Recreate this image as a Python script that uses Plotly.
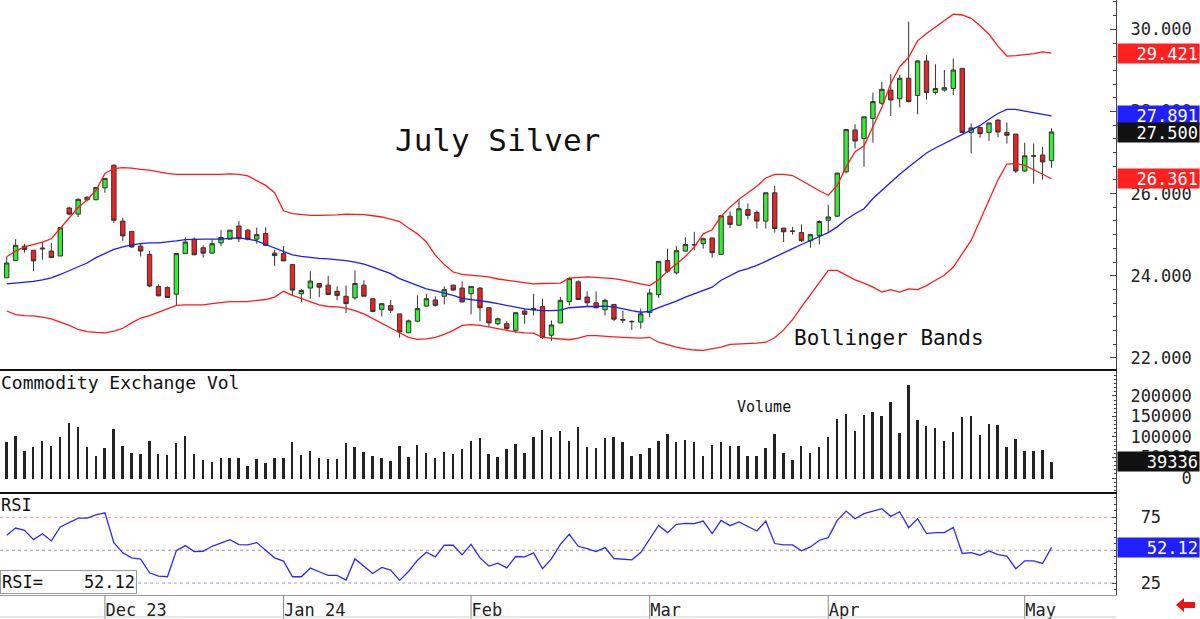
import plotly.graph_objects as go

# ---------------- data ----------------
x_labels = ["Dec 23", "Jan 24", "Feb", "Mar", "Apr", "May"]
x_label_idx = [11, 31, 52, 72, 92, 114]

opens = [23.95, 24.37, 24.72, 24.62, 24.65, 24.60, 24.48, 25.65, 25.50, 25.85,
         25.85, 26.14, 26.69, 25.33, 25.08, 24.72, 24.52, 23.74, 23.71, 23.55,
         24.54, 24.89, 24.68, 24.55, 24.80, 24.89, 25.21, 25.11, 24.89, 25.03,
         24.55, 24.54, 24.27, 23.56, 23.70, 23.81, 23.77, 23.62, 23.50, 23.46,
         23.77, 23.44, 23.18, 23.27, 23.07, 22.61, 22.89, 23.26, 23.41, 23.50,
         23.77, 23.70, 23.56, 23.70, 23.22, 22.83, 22.83, 22.67, 23.14, 23.17,
         23.25, 22.55, 22.85, 23.37, 23.85, 23.48, 23.34, 23.17, 23.30, 22.93,
         22.89, 22.87, 23.10, 23.54, 24.37, 24.07, 24.60, 24.76, 24.78, 24.92,
         24.52, 25.45, 25.23, 25.61, 25.54, 25.33, 26.02, 25.16, 25.09, 25.05,
         24.85, 24.98, 25.35, 25.45, 26.53, 27.55, 27.34, 27.83, 28.20, 28.52,
         28.31, 28.81, 28.39, 29.23, 28.46, 28.52, 28.56, 29.05, 27.49, 27.61,
         27.49, 27.79, 27.49, 27.45, 26.55, 26.91, 26.94, 26.80]
highs = [24.46, 24.89, 24.78, 24.62, 24.82, 24.80, 25.19, 25.68, 25.88, 25.94,
         26.16, 26.37, 26.71, 25.41, 25.08, 24.78, 24.60, 23.79, 23.74, 24.54,
         24.93, 24.93, 24.74, 24.88, 25.11, 25.11, 25.33, 25.14, 25.17, 25.18,
         24.63, 24.72, 24.27, 23.68, 24.11, 23.81, 24.00, 23.74, 23.76, 24.13,
         23.89, 23.44, 23.32, 23.41, 23.07, 22.93, 23.52, 23.56, 23.50, 23.74,
         23.78, 23.86, 23.74, 23.72, 23.22, 22.98, 22.89, 23.10, 23.20, 23.56,
         23.44, 22.91, 23.48, 23.97, 23.89, 23.62, 23.62, 23.44, 23.30, 23.15,
         22.91, 23.20, 23.68, 24.35, 24.66, 24.72, 24.94, 25.07, 24.93, 24.92,
         25.47, 25.57, 25.85, 25.76, 25.59, 26.02, 26.19, 25.16, 25.19, 25.25,
         25.02, 25.35, 25.73, 26.50, 27.56, 27.69, 27.87, 28.46, 28.72, 28.91,
         28.89, 30.19, 29.25, 29.37, 29.15, 29.01, 29.29, 29.05, 27.71, 27.63,
         27.72, 27.81, 27.73, 27.45, 27.24, 27.22, 27.14, 27.59]
lows = [23.95, 24.37, 24.56, 24.11, 24.39, 24.44, 24.48, 25.47, 25.43, 25.81,
        25.84, 26.02, 25.28, 24.85, 24.68, 24.47, 23.72, 23.50, 23.46, 23.28,
        24.54, 24.50, 24.44, 24.54, 24.72, 24.89, 24.82, 24.86, 24.78, 24.72,
        24.24, 24.36, 23.52, 23.36, 23.44, 23.48, 23.54, 23.40, 23.09, 23.42,
        23.50, 23.11, 23.01, 23.09, 22.49, 22.60, 22.87, 23.25, 23.25, 23.30,
        23.64, 23.36, 23.06, 22.89, 22.76, 22.79, 22.68, 22.60, 22.83, 23.03,
        22.46, 22.41, 22.85, 23.28, 23.42, 23.26, 23.20, 23.03, 22.89, 22.85,
        22.68, 22.71, 22.99, 23.46, 24.07, 24.03, 24.58, 24.62, 24.66, 24.44,
        24.50, 25.16, 25.23, 25.37, 25.15, 25.15, 25.05, 24.82, 25.00, 24.82,
        24.68, 24.76, 25.07, 25.43, 26.49, 27.10, 26.65, 27.24, 28.16, 27.89,
        28.10, 28.22, 27.93, 28.29, 28.41, 28.48, 28.40, 27.48, 26.98, 27.36,
        27.28, 27.37, 27.22, 26.50, 26.53, 26.24, 26.34, 26.63]
closes = [24.31, 24.74, 24.64, 24.36, 24.67, 24.44, 25.17, 25.50, 25.86, 25.91,
          26.15, 26.37, 25.35, 24.97, 24.70, 24.60, 23.75, 23.51, 23.47, 24.54,
          24.82, 24.51, 24.55, 24.78, 24.93, 25.11, 24.90, 24.89, 25.00, 24.74,
          24.49, 24.36, 23.65, 23.64, 23.87, 23.72, 23.54, 23.52, 23.32, 23.81,
          23.50, 23.13, 23.32, 23.16, 22.63, 22.90, 23.20, 23.44, 23.28, 23.66,
          23.65, 23.36, 23.74, 23.22, 22.85, 22.95, 22.71, 23.10, 23.06, 23.20,
          22.49, 22.80, 23.40, 23.93, 23.42, 23.34, 23.22, 23.40, 22.94, 22.92,
          22.88, 23.07, 23.58, 24.35, 24.11, 24.61, 24.76, 24.75, 24.90, 24.56,
          25.46, 25.25, 25.63, 25.47, 25.33, 26.02, 25.15, 25.07, 25.08, 24.85,
          25.00, 25.32, 25.43, 26.50, 27.56, 27.28, 27.87, 28.24, 28.54, 28.28,
          28.81, 28.24, 29.23, 28.46, 28.56, 28.58, 29.01, 27.49, 27.60, 27.46,
          27.72, 27.50, 27.42, 26.55, 26.92, 26.92, 26.77, 27.50]

bb_upper = [24.46, 24.60, 24.70, 24.76, 24.82, 24.90, 25.15, 25.41, 25.66, 25.85,
            26.08, 26.49, 26.61, 26.63, 26.62, 26.59, 26.57, 26.53, 26.49, 26.47,
            26.47, 26.47, 26.46, 26.46, 26.47, 26.48, 26.47, 26.43, 26.32, 26.20,
            26.02, 25.58, 25.51, 25.49, 25.47, 25.47, 25.47, 25.48, 25.50, 25.50,
            25.49, 25.46, 25.43, 25.38, 25.32, 25.16, 25.02, 24.82, 24.50, 24.27,
            24.09, 24.03, 24.01, 23.99, 23.97, 23.92, 23.89, 23.86, 23.83, 23.80,
            23.81, 23.82, 23.82, 23.94, 23.96, 23.97, 23.96, 23.95, 23.93, 23.89,
            23.84, 23.80, 23.76, 23.90, 24.11, 24.29, 24.47, 24.70, 25.02, 25.12,
            25.45, 25.67, 25.86, 26.02, 26.18, 26.38, 26.47, 26.47, 26.44, 26.32,
            26.19, 26.07, 25.96, 26.20, 26.65, 27.02, 27.16, 27.63, 28.10, 28.68,
            29.09, 29.32, 29.72, 29.90, 30.05, 30.21, 30.37, 30.35, 30.27, 30.09,
            29.88, 29.59, 29.35, 29.36, 29.38, 29.41, 29.45, 29.421]
bb_mid = [23.80, 23.82, 23.84, 23.86, 23.90, 23.95, 24.03, 24.12, 24.21, 24.31,
          24.44, 24.54, 24.64, 24.70, 24.75, 24.78, 24.80, 24.80, 24.82, 24.85,
          24.88, 24.89, 24.89, 24.89, 24.89, 24.91, 24.92, 24.89, 24.85, 24.76,
          24.68, 24.60, 24.51, 24.47, 24.44, 24.42, 24.41, 24.39, 24.37, 24.33,
          24.28, 24.21, 24.13, 24.05, 23.93, 23.85, 23.76, 23.68, 23.63, 23.58,
          23.52, 23.45, 23.42, 23.40, 23.36, 23.32, 23.28, 23.24, 23.19, 23.17,
          23.15, 23.15, 23.16, 23.22, 23.24, 23.25, 23.25, 23.26, 23.24, 23.19,
          23.15, 23.11, 23.13, 23.22, 23.30, 23.38, 23.48, 23.56, 23.64, 23.72,
          23.89, 24.01, 24.11, 24.17, 24.25, 24.35, 24.46, 24.56, 24.66, 24.76,
          24.86, 24.96, 25.05, 25.19, 25.37, 25.51, 25.63, 25.88, 26.08, 26.28,
          26.47, 26.65, 26.83, 26.99, 27.11, 27.22, 27.34, 27.45, 27.56, 27.66,
          27.81, 27.95, 28.05, 28.05, 28.01, 27.97, 27.93, 27.891]
bb_lower = [23.14, 23.05, 23.03, 23.02, 22.99, 22.95, 22.87, 22.79, 22.69, 22.64,
            22.62, 22.61, 22.65, 22.72, 22.85, 22.97, 23.03, 23.11, 23.19, 23.28,
            23.29, 23.29, 23.29, 23.32, 23.34, 23.37, 23.37, 23.37, 23.40, 23.42,
            23.48, 23.62, 23.52, 23.44, 23.36, 23.29, 23.25, 23.24, 23.21, 23.15,
            23.07, 22.95, 22.83, 22.71, 22.61, 22.50, 22.45, 22.46, 22.50, 22.57,
            22.67, 22.79, 22.81, 22.79, 22.75, 22.71, 22.67, 22.63, 22.61, 22.60,
            22.50, 22.48, 22.45, 22.44, 22.48, 22.54, 22.54, 22.52, 22.51, 22.50,
            22.49, 22.48, 22.50, 22.38, 22.32, 22.26, 22.22, 22.19, 22.18, 22.22,
            22.26, 22.33, 22.34, 22.34, 22.36, 22.38, 22.49, 22.68, 22.93, 23.24,
            23.54, 23.86, 24.13, 24.13, 24.01, 23.90, 23.82, 23.72, 23.60, 23.66,
            23.60, 23.68, 23.66, 23.76, 23.89, 24.01, 24.21, 24.54, 24.86, 25.35,
            25.84, 26.33, 26.72, 26.73, 26.69, 26.58, 26.46, 26.361]

volume = [88000, 104000, 68000, 77000, 92000, 80000, 100000, 135000, 125000, 77000,
          56000, 75000, 120000, 80000, 62000, 61000, 92000, 61000, 57000, 86000,
          104000, 61000, 45000, 40000, 51000, 50000, 51000, 30000, 48000, 37000,
          51000, 51000, 90000, 57000, 66000, 51000, 47000, 47000, 87000, 77000,
          65000, 56000, 49000, 43000, 80000, 53000, 82000, 63000, 49000, 65000,
          59000, 73000, 92000, 99000, 61000, 53000, 73000, 85000, 63000, 100000,
          118000, 100000, 116000, 92000, 125000, 78000, 75000, 98000, 100000, 88000,
          54000, 59000, 75000, 92000, 108000, 88000, 95000, 90000, 56000, 82000,
          88000, 80000, 80000, 54000, 56000, 75000, 109000, 62000, 44000, 80000,
          62000, 78000, 102000, 145000, 157000, 116000, 154000, 162000, 153000, 187000,
          112000, 228000, 143000, 128000, 122000, 92000, 114000, 151000, 153000, 106000,
          133000, 131000, 78000, 96000, 68000, 68000, 69000, 39336]

rsi = [61.4, 66.9, 65.2, 58.1, 62.6, 57.1, 67.7, 71.0, 74.5, 74.5,
       77.0, 78.5, 55.8, 48.0, 44.2, 43.2, 32.8, 30.3, 29.8, 49.7,
       53.5, 49.0, 49.2, 53.0, 55.6, 58.1, 54.3, 54.0, 55.8, 50.0,
       44.2, 41.7, 29.8, 29.8, 36.4, 33.6, 30.8, 30.8, 27.3, 43.4,
       37.6, 32.3, 36.9, 34.8, 27.0, 33.8, 42.4, 48.5, 44.9, 53.8,
       53.8, 46.5, 54.5, 44.2, 37.9, 40.2, 36.6, 45.2, 44.9, 48.0,
       35.9, 43.4, 54.5, 62.1, 53.0, 51.3, 49.0, 52.0, 43.7, 43.2,
       42.7, 48.2, 58.3, 68.9, 63.4, 69.7, 70.5, 70.2, 72.2, 62.6,
       72.7, 68.7, 71.5, 68.2, 64.6, 72.2, 55.1, 54.0, 54.0, 49.5,
       52.5, 57.6, 59.6, 72.7, 79.8, 74.0, 77.8, 79.8, 81.6, 75.8,
       79.3, 67.2, 74.0, 62.6, 63.4, 63.4, 67.4, 47.5, 48.2, 46.2,
       49.5, 46.7, 45.5, 35.9, 41.9, 41.9, 39.9, 52.12]

price_ticks = [22, 24, 26, 28, 30]
vol_ticks = [0, 50000, 100000, 150000, 200000]
rsi_ticks = [25, 75]
rsi_levels = [75, 50, 25]

idx = list(range(len(closes)))

# ---------------- geometry helpers (layout only) ----------------
W, H = 1200, 619
PLOT_W, PLOT_H = 1116, 595


def py(p):
    return (PLOT_H - p) / PLOT_H


def pxx(p):
    return p / PLOT_W


MONO = "DejaVu Sans Mono"

fig = go.Figure()

# Bollinger bands
fig.add_trace(go.Scatter(x=idx, y=bb_upper, mode="lines", line=dict(color="#ff1a1a", width=1.3),
                         xaxis="x", yaxis="y", hoverinfo="skip"))
fig.add_trace(go.Scatter(x=idx, y=bb_lower, mode="lines", line=dict(color="#ff1a1a", width=1.3),
                         xaxis="x", yaxis="y", hoverinfo="skip"))
fig.add_trace(go.Scatter(x=idx, y=bb_mid, mode="lines", line=dict(color="#1a1aff", width=1.3),
                         xaxis="x", yaxis="y", hoverinfo="skip"))

# candles
fig.add_trace(go.Candlestick(
    x=idx, open=opens, high=highs, low=lows, close=closes,
    increasing=dict(fillcolor="#33ee33", line=dict(color="#333333", width=1)),
    decreasing=dict(fillcolor="#ee2222", line=dict(color="#333333", width=1)),
    whiskerwidth=0, xaxis="x", yaxis="y", hoverinfo="skip"))

# volume
fig.add_trace(go.Bar(x=idx, y=volume, width=0.22, marker=dict(color="#222222", line=dict(width=0)),
                     xaxis="x2", yaxis="y2", hoverinfo="skip"))

# RSI
fig.add_trace(go.Scatter(x=idx, y=rsi, mode="lines", line=dict(color="#2a2aff", width=1.3),
                         xaxis="x3", yaxis="y3", hoverinfo="skip"))

xr = [-0.75, 124.22]
common_x = dict(range=xr, showgrid=False, zeroline=False, fixedrange=True)

axis_font = dict(family=MONO, size=17, color="#222222")

fig.update_layout(
    width=W, height=H,
    margin=dict(l=0, r=W - PLOT_W, t=0, b=H - PLOT_H, pad=0),
    paper_bgcolor="white", plot_bgcolor="white",
    showlegend=False,
    bargap=0,
    xaxis=dict(**common_x, domain=[0, 1], anchor="y", showticklabels=False, ticks="",
               showline=True, linecolor="#111111", linewidth=2, rangeslider=dict(visible=False)),
    xaxis2=dict(**common_x, domain=[0, 1], anchor="y2", matches="x", showticklabels=False, ticks="",
                showline=True, linecolor="#111111", linewidth=2),
    xaxis3=dict(**common_x, domain=[0, 1], anchor="y3", matches="x",
                tickmode="array", tickvals=x_label_idx, ticktext=x_labels,
                ticks="", ticklabelposition="outside right", tickfont=axis_font,
                showline=True, linecolor="#999999", linewidth=1),
    yaxis=dict(domain=[py(368.5), 1], anchor="x", side="right", range=[21.74, 30.715],
               tickmode="array", tickvals=price_ticks, tickformat=".3f", tickfont=axis_font,
               ticks="inside", ticklen=6, tickcolor="#444444",
               minor=dict(dtick=1 / 3, tick0=22, ticks="inside", ticklen=3, tickcolor="#444444"),
               showline=True, linecolor="#444444", linewidth=1, showgrid=False, zeroline=False,
               ticklabelstandoff=10, fixedrange=True),
    yaxis2=dict(domain=[py(492), py(370.5)], anchor="x2", side="right", range=[-33900, 261800],
                tickmode="array", tickvals=vol_ticks,
                ticktext=["\u00a0" * 5 + "0", "\u00a050000", "100000", "150000", "200000"],
                tickfont=axis_font, ticks="inside", ticklen=4, tickcolor="#444444",
                minor=dict(dtick=10000, ticks="inside", ticklen=2, tickcolor="#444444"),
                showline=True, linecolor="#444444", linewidth=1, showgrid=False, zeroline=False,
                ticklabelstandoff=10, fixedrange=True),
    yaxis3=dict(domain=[0, py(493.5)], anchor="x3", side="right", range=[15.9, 93.2],
                tickmode="array", tickvals=rsi_ticks, ticktext=["\u00a0" + str(v) for v in rsi_ticks],
                tickfont=axis_font, ticks="inside", ticklen=4, tickcolor="#444444",
                minor=dict(dtick=5, ticks="inside", ticklen=2, tickcolor="#444444"),
                showline=True, linecolor="#444444", linewidth=1, showgrid=False, zeroline=False,
                ticklabelstandoff=10, fixedrange=True),
)

# RSI reference lines
level_colors = {75: "#ff9a9a", 50: "#9a9a9a", 25: "#9a9aff"}
for lv in rsi_levels:
    fig.add_shape(type="line", xref="x3 domain", yref="y3", x0=0, x1=1, y0=lv, y1=lv,
                  line=dict(color=level_colors[lv], width=1, dash="dot"), layer="below")

# x tick lines below RSI panel
for ti in x_label_idx:
    fig.add_shape(type="line", xref="x3", yref="paper", x0=ti, x1=ti, y0=0, y1=py(H),
                  line=dict(color="#888888", width=1))

# bottom frame line of label strip
fig.add_shape(type="line", xref="paper", yref="paper", x0=0, x1=1, y0=py(617), y1=py(617),
              line=dict(color="#cccccc", width=1))


# value boxes on the right
def value_box(val, text, color, yref):
    fig.add_annotation(xref="paper", yref=yref, x=1.0008, y=val, xanchor="left", yanchor="middle",
                       text=text, showarrow=False, align="right", width=79, height=17,
                       bgcolor=color, borderpad=1, font=dict(family=MONO, size=17, color="white"))


value_box(bb_upper[-1], f"{bb_upper[-1]:.3f}", "#ff2020", "y")
value_box(bb_mid[-1], f"{bb_mid[-1]:.3f}", "#2020ff", "y")
value_box(closes[-1], f"{closes[-1]:.3f}", "#111111", "y")
value_box(bb_lower[-1], f"{bb_lower[-1]:.3f}", "#ff2020", "y")
value_box(volume[-1], f"{volume[-1]}", "#111111", "y2")
value_box(rsi[-1], f"{rsi[-1]:.2f}", "#2020ff", "y3")

# titles / captions
fig.add_annotation(xref="paper", yref="paper", x=pxx(497), y=py(140), xanchor="center", yanchor="middle",
                   text="July Silver", showarrow=False,
                   font=dict(family=MONO, size=31, color="#111111"))
fig.add_annotation(xref="paper", yref="paper", x=pxx(889), y=py(338), xanchor="center", yanchor="middle",
                   text="Bollinger Bands", showarrow=False,
                   font=dict(family=MONO, size=21, color="#111111"))
fig.add_annotation(xref="paper", yref="paper", x=0, y=py(371), xanchor="left", yanchor="top",
                   text="Commodity Exchange Vol", showarrow=False, borderpad=0,
                   font=dict(family=MONO, size=18, color="#111111"))
fig.add_annotation(xref="paper", yref="paper", x=pxx(764), y=py(407), xanchor="center", yanchor="middle",
                   text="Volume", showarrow=False,
                   font=dict(family=MONO, size=15, color="#111111"))
fig.add_annotation(xref="paper", yref="paper", x=0, y=py(494), xanchor="left", yanchor="top",
                   text="RSI", showarrow=False, borderpad=0,
                   font=dict(family=MONO, size=17, color="#111111"))
fig.add_annotation(xref="paper", yref="paper", x=0, y=py(593.5), xanchor="left", yanchor="bottom",
                   text="RSI=" + "\u00a0" * 4 + f"{rsi[-1]:.2f}", showarrow=False,
                   bgcolor="white", bordercolor="#999999", borderwidth=1, borderpad=1,
                   font=dict(family=MONO, size=17, color="#111111"))

# small red arrow bottom-right
ax = [1176, 1184, 1184, 1195, 1195, 1184, 1184]
ay = [605, 598, 602, 602, 608, 608, 612]
path = "M " + " L ".join(f"{pxx(a):.5f},{py(b):.5f}" for a, b in zip(ax, ay)) + " Z"
fig.add_shape(type="path", xref="paper", yref="paper", path=path,
              fillcolor="#ee1111", line=dict(width=0))

fig.write_html("out.html")
